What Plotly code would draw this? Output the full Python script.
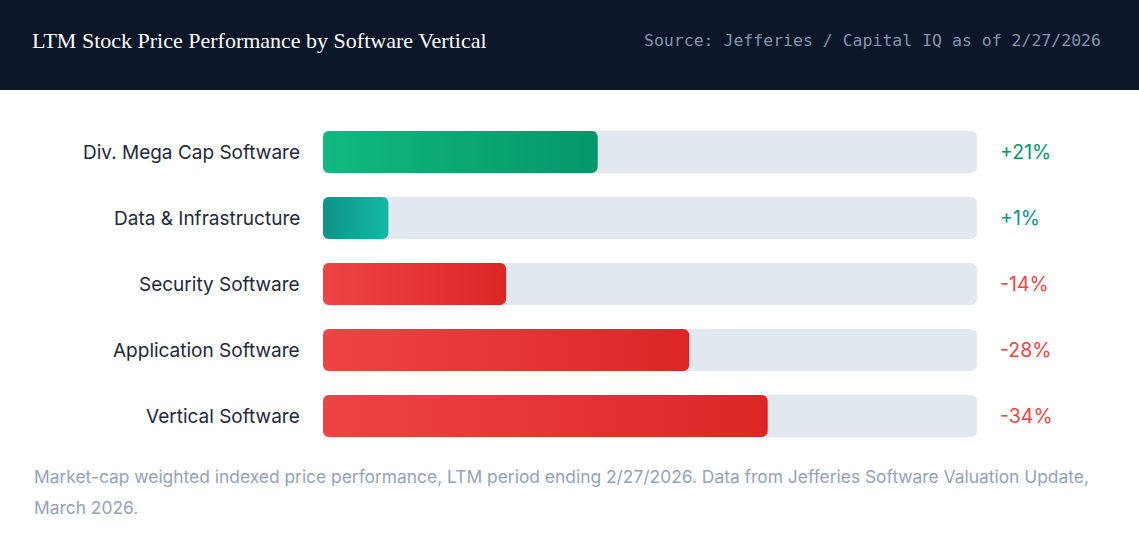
import numpy as np
import plotly.graph_objects as go

# data
verticals = [
    "Div. Mega Cap Software",
    "Data & Infrastructure",
    "Security Software",
    "Application Software",
    "Vertical Software",
]
ltm_change = [21, 1, -14, -28, -34]
value_labels = ["+21%", "+1%", "-14%", "-28%", "-34%"]
start_colors = ["#10b981", "#0d9488", "#ef4444", "#ef4444", "#ef4444"]
end_colors = ["#059669", "#14b8a6", "#dc2626", "#dc2626", "#dc2626"]
text_colors = ["#059669", "#0d9488", "#ef4444", "#ef4444", "#ef4444"]

TITLE = "LTM Stock Price Performance by Software Vertical"
SOURCE = "Source: Jefferies / Capital IQ as of 2/27/2026"
NOTE_1 = ("Market-cap weighted indexed price performance, LTM period ending 2/27/2026. "
          "Data from Jefferies Software Valuation Update,")
NOTE_2 = "March 2026."

W, H = 1139, 541
SCALE_MAX = 50      # full track = 50%
MIN_BAR = 5         # tiny values still get a visible stub
BAR_W = 0.636
NAVY = "#0b1629"
TRACK = "#e2e8f0"
SANS = "Inter, Roboto, sans-serif"

# plot area in pixels
X0_PX, X1_PX = 323, 977
Y_TOP_PX, Y_BOT_PX = 119, 449
px_per_x = (X1_PX - X0_PX) / SCALE_MAX
px_per_y = (Y_BOT_PX - Y_TOP_PX) / len(verticals)


def rounded_bar(length, yc, half_h, r_px=6, n=8):
    """Outline of a rounded rectangle from x=0 to x=length, in data units."""
    rx = r_px / px_per_x
    ry = r_px / px_per_y
    corners = [
        (length - rx, yc - half_h + ry, -np.pi / 2, 0.0),
        (length - rx, yc + half_h - ry, 0.0, np.pi / 2),
        (rx, yc + half_h - ry, np.pi / 2, np.pi),
        (rx, yc - half_h + ry, np.pi, 1.5 * np.pi),
    ]
    xs, ys = [], []
    for cx, cy, a0, a1 in corners:
        a = np.linspace(a0, a1, n)
        xs.extend(cx + rx * np.cos(a))
        ys.extend(cy + ry * np.sin(a))
    xs.append(xs[0])
    ys.append(ys[0])
    return xs, ys


fig = go.Figure()
idx = list(range(len(verticals)))

fig.add_trace(go.Bar(
    x=[SCALE_MAX] * len(verticals), y=idx, orientation="h", width=BAR_W,
    marker=dict(color=TRACK, line=dict(width=0), cornerradius=6),
    hoverinfo="skip", showlegend=False,
))

for i, v in enumerate(ltm_change):
    length = max(abs(v), MIN_BAR)
    xs, ys = rounded_bar(length, i, BAR_W / 2)
    fig.add_trace(go.Scatter(
        x=xs, y=ys, mode="lines", fill="toself", line=dict(width=0),
        fillgradient=dict(type="horizontal",
                          colorscale=[[0, start_colors[i]], [1, end_colors[i]]]),
        hoverinfo="skip", showlegend=False,
    ))

annotations = []
for i, name in enumerate(verticals):
    annotations.append(dict(
        x=0, y=i, xref="x", yref="y", text=name, showarrow=False,
        xanchor="right", xshift=-21,
        font=dict(family=SANS, size=19, color="#1e293b"),
    ))
    annotations.append(dict(
        x=SCALE_MAX, y=i, xref="x", yref="y", text=value_labels[i], showarrow=False,
        xanchor="left", xshift=21,
        font=dict(family=SANS, size=19.5, color=text_colors[i]),
    ))

annotations += [
    dict(x=30 / W, y=1 - 40 / H, xref="paper", yref="paper", text=TITLE, showarrow=False,
         xanchor="left", yanchor="middle",
         font=dict(family="Liberation Serif, serif", size=22, color="#ffffff")),
    dict(x=1103 / W, y=1 - 40 / H, xref="paper", yref="paper", text=SOURCE, showarrow=False,
         xanchor="right", yanchor="middle",
         font=dict(family="DejaVu Sans Mono, monospace", size=16.5, color="#8194ad")),
    dict(x=32 / W, y=1 - 477 / H, xref="paper", yref="paper", text=NOTE_1, showarrow=False,
         xanchor="left", yanchor="middle",
         font=dict(family=SANS, size=17.4, color="#94a3b8")),
    dict(x=32 / W, y=1 - 507 / H, xref="paper", yref="paper", text=NOTE_2, showarrow=False,
         xanchor="left", yanchor="middle",
         font=dict(family=SANS, size=17.4, color="#94a3b8")),
]

fig.update_layout(
    width=W, height=H,
    margin=dict(l=0, r=0, t=0, b=0),
    paper_bgcolor="#ffffff", plot_bgcolor="#ffffff",
    barmode="overlay",
    xaxis=dict(domain=[X0_PX / W, X1_PX / W], range=[0, SCALE_MAX],
               visible=False, fixedrange=True),
    yaxis=dict(domain=[1 - Y_BOT_PX / H, 1 - Y_TOP_PX / H],
               range=[len(verticals) - 0.5, -0.5], visible=False, fixedrange=True),
    shapes=[dict(type="rect", xref="paper", yref="paper", x0=0, x1=1,
                 y0=1 - 90 / H, y1=1, fillcolor=NAVY, line=dict(width=0), layer="below")],
    annotations=annotations,
)

# drop the browser's default body margin so the figure fills the window
fig.write_html("out.html", config={"displayModeBar": False},
               post_script="document.body.style.margin='0';document.body.style.overflow='hidden';")
